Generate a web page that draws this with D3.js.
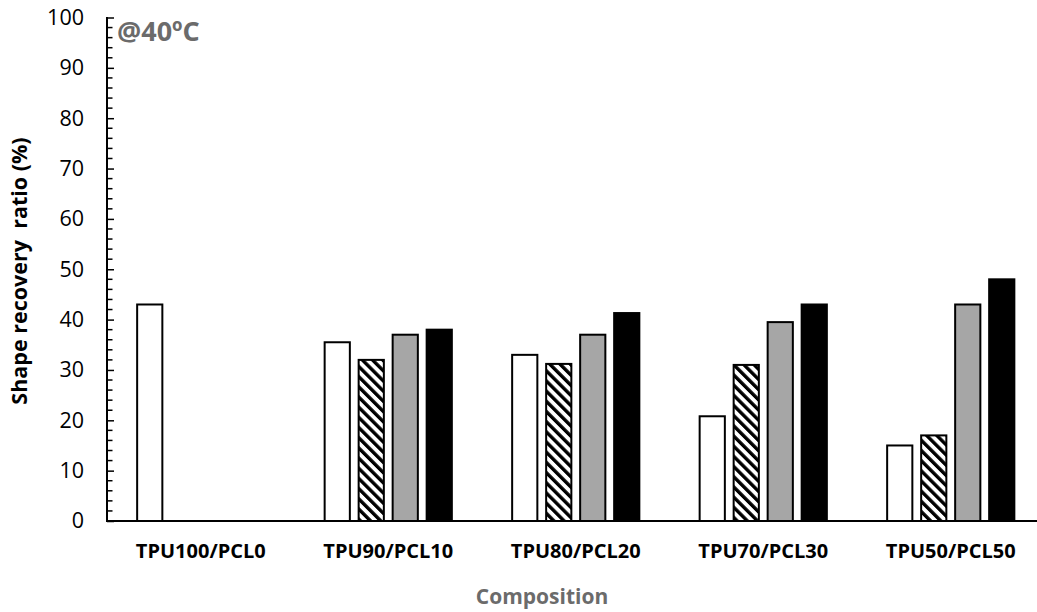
<!DOCTYPE html>
<html>
<head>
<meta charset="utf-8">
<script src="https://cdn.jsdelivr.net/npm/d3@7"></script>
<style>
  html, body { margin: 0; padding: 0; background: #fff; }
  svg { display: block; }
  text { font-family: "Open Sans", "Noto Sans", sans-serif; }
</style>
</head>
<body>
<svg id="chart" width="1037" height="612"></svg>
<script>
// Compositions along the x axis
const categories = ["TPU100/PCL0", "TPU90/PCL10", "TPU80/PCL20", "TPU70/PCL30", "TPU50/PCL50"];
// Four measurement series per composition (null = not measured)
const seriesNames = ["s1", "s2", "s3", "s4"];
const series1 = [43, 35.5, 33, 20.8, 15];
const series2 = [null, 32, 31.2, 31, 17];
const series3 = [null, 37, 37, 39.5, 43];
const series4 = [null, 38, 41.3, 43, 48];
const yTicks = [0, 10, 20, 30, 40, 50, 60, 70, 80, 90, 100];

const allSeries = [series1, series2, series3, series4];
const fills = ["#ffffff", "url(#hatch)", "#a6a6a6", "#000000"];

const svg = d3.select("#chart");

// Diagonal hatch pattern for the second series
const defs = svg.append("defs");
const pat = defs.append("pattern")
  .attr("id", "hatch")
  .attr("patternUnits", "userSpaceOnUse")
  .attr("width", 7.2)
  .attr("height", 7.2)
  .attr("patternTransform", "rotate(-45)");
pat.append("rect").attr("width", 7.2).attr("height", 7.2).attr("fill", "#fff");
pat.append("rect").attr("x", 0).attr("y", 0).attr("width", 3.4).attr("height", 7.2).attr("fill", "#000");

const plotLeft = 107, plotTop = 17.5, plotBottom = 521;

const x0 = d3.scaleBand().domain(categories).range([plotLeft, plotLeft + 937.5]);
const x1 = d3.scaleBand().domain(seriesNames).range([-68, 68]).paddingInner(0.2).paddingOuter(0.1);
const y = d3.scaleLinear().domain([0, 100]).range([plotBottom, plotTop]);

// Bars
const bars = [];
categories.forEach((c, i) => {
  allSeries.forEach((s, j) => {
    if (s[i] != null) bars.push({ cat: c, key: seriesNames[j], value: s[i], fill: fills[j] });
  });
});

svg.append("g").selectAll("rect")
  .data(bars)
  .join("rect")
  .attr("x", d => x0(d.cat) + x0.bandwidth() / 2 + x1(d.key) + 1)
  .attr("y", d => y(d.value))
  .attr("width", x1.bandwidth() - 2)
  .attr("height", d => y(0) - y(d.value))
  .attr("fill", d => d.fill)
  .attr("stroke", "#000")
  .attr("stroke-width", 2);

// Y axis: major ticks with labels, minor ticks every 2
const yAxis = d3.axisLeft(y).tickValues(yTicks).tickSizeInner(-7).tickSizeOuter(0).tickPadding(23);
const gy = svg.append("g").attr("transform", `translate(${plotLeft},0)`).call(yAxis);
gy.select(".domain").remove();
gy.selectAll(".tick line").attr("stroke", "#000").attr("stroke-width", 1.5);
gy.selectAll(".tick text").attr("font-size", 21.5).attr("fill", "#000");

const minor = d3.range(0, 101, 2).filter(v => v % 10 !== 0);
svg.append("g").selectAll("line")
  .data(minor)
  .join("line")
  .attr("x1", plotLeft).attr("x2", plotLeft + 5.5)
  .attr("y1", d => y(d)).attr("y2", d => y(d))
  .attr("stroke", "#000").attr("stroke-width", 1.5);

svg.append("line")
  .attr("x1", plotLeft).attr("x2", plotLeft)
  .attr("y1", y(100) - 0.5).attr("y2", y(0))
  .attr("stroke", "#000").attr("stroke-width", 2);

// X axis
svg.append("line")
  .attr("x1", plotLeft - 1).attr("x2", 1037)
  .attr("y1", y(0)).attr("y2", y(0))
  .attr("stroke", "#000").attr("stroke-width", 2);

svg.append("g").selectAll("text")
  .data(categories)
  .join("text")
  .attr("x", d => x0(d) + x0.bandwidth() / 2)
  .attr("y", 558)
  .attr("text-anchor", "middle")
  .attr("font-size", 20)
  .attr("font-weight", "bold")
  .attr("fill", "#000")
  .text(d => d);

// Axis titles
svg.append("text")
  .attr("x", 542)
  .attr("y", 604)
  .attr("text-anchor", "middle")
  .attr("font-size", 21)
  .attr("font-weight", "bold")
  .attr("fill", "#6b6b6b")
  .text("Composition");

svg.append("text")
  .attr("transform", "translate(27,271) rotate(-90)")
  .attr("text-anchor", "middle")
  .attr("font-size", 21.5)
  .attr("font-weight", "bold")
  .attr("fill", "#000")
  .attr("xml:space", "preserve")
  .style("white-space", "pre")
  .text("Shape recovery  ratio (%)");

// Temperature annotation
svg.append("text")
  .attr("x", 117)
  .attr("y", 41)
  .attr("font-size", 27)
  .attr("font-weight", "bold")
  .attr("fill", "#6b6b6b")
  .text("@40ºC");
</script>
</body>
</html>
